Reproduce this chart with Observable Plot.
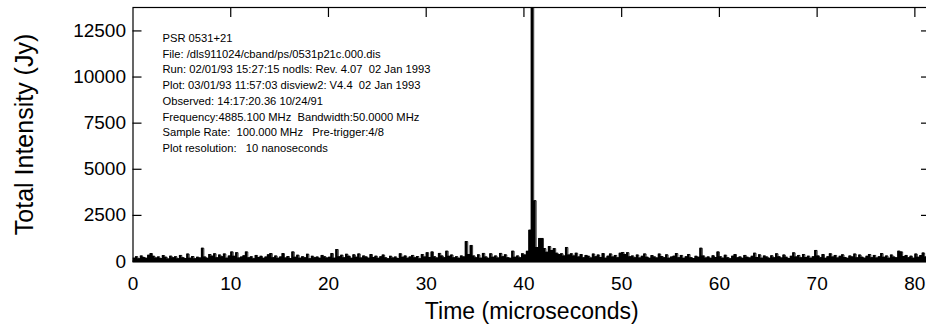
<!DOCTYPE html>
<html>
<head>
<meta charset="utf-8">
<script src="https://cdn.jsdelivr.net/npm/d3@7"></script>
<script src="https://cdn.jsdelivr.net/npm/@observablehq/plot@0.6"></script>
<style>
  html, body { margin: 0; padding: 0; background: #fff; overflow: hidden; }
  #chart { width: 926px; height: 331px; }
</style>
</head>
<body>
<div id="chart"></div>
<script>
// ---- data ----
const xTicks = [0, 10, 20, 30, 40, 50, 60, 70, 80];
const yTicks = [0, 2500, 5000, 7500, 10000, 12500];
const xLabel = "Time (microseconds)";
const yLabel = "Total Intensity (Jy)";
const infoLines = [
  "PSR 0531+21",
  "File: /dls911024/cband/ps/0531p21c.000.dis",
  "Run: 02/01/93 15:27:15 nodls: Rev. 4.07  02 Jan 1993",
  "Plot: 03/01/93 11:57:03 disview2: V4.4  02 Jan 1993",
  "Observed: 14:17:20.36 10/24/91",
  "Frequency:4885.100 MHz  Bandwidth:50.0000 MHz",
  "Sample Rate:  100.000 MHz   Pre-trigger:4/8",
  "Plot resolution:   10 nanoseconds"
];
const sampleStep = 0.25; // microseconds between listed samples
// intensity in Jy, one value per 0.25 microseconds starting at 0
const intensity = [
  180, 260, 150, 300, 220, 170, 340, 430, 280, 190, 250, 160, 320, 230, 140, 290, 200, 260, 150, 330,
  210, 160, 400, 180, 270, 150, 230, 190, 720, 240, 170, 380, 290, 420, 200, 350, 260, 410, 180, 300,
  520, 280, 480, 190, 240, 310, 520, 200, 260, 150, 330, 220, 280, 170, 240, 360, 430, 210, 300, 180,
  250, 430, 190, 270, 160, 520, 230, 340, 180, 260, 200, 390, 150, 280, 210, 240, 170, 330, 260, 190,
  230, 430, 180, 650, 260, 340, 200, 390, 280, 170, 360, 230, 410, 190, 300, 250, 180, 380, 220, 290,
  170, 260, 350, 200, 150, 280, 190, 240, 160, 420, 230, 300, 180, 250, 330, 200, 270, 150, 380, 240,
  480, 220, 520, 260, 190, 440, 300, 210, 560, 280, 350, 200, 260, 170, 300, 250, 1080, 380, 870, 300,
  200, 360, 180, 440, 250, 170, 420, 230, 300, 190, 440, 260, 360, 210, 170, 560, 230, 300, 200, 420,
  350, 550, 1700, 13800, 3300, 760, 1250, 1250, 700, 500, 810, 600, 700, 450, 380, 420, 300, 760, 350, 420,
  300, 450, 250, 380, 200, 330, 280, 190, 400, 260, 350, 220, 430, 180, 290, 410, 240, 330, 200, 450,
  490, 380, 480, 260, 300, 200, 350, 190, 280, 410, 230, 170, 320, 250, 190, 400, 270, 210, 360, 180,
  240, 290, 430, 200, 330, 170, 260, 380, 210, 160, 280, 230, 720, 300, 190, 250, 170, 310, 220, 520,
  260, 180, 340, 210, 150, 290, 380, 200, 250, 170, 330, 230, 190, 280, 450, 220, 360, 180, 300, 240,
  170, 310, 200, 420, 260, 190, 350, 230, 160, 280, 470, 250, 330, 200, 380, 220, 290, 180, 260, 600,
  300, 210, 380, 170, 260, 420, 240, 330, 190, 280, 360, 220, 170, 300, 250, 400, 200, 350, 230, 180,
  280, 380, 210, 330, 190, 260, 430, 230, 300, 180, 350, 240, 200, 560, 520, 270, 330, 210, 290, 180,
  400, 230, 320, 460, 250, 300, 200
];

const data = intensity.map((v, i) => ({t: i * sampleStep, v}));

const W = 926, H = 331;
const mL = 132.5, mR = -4, mT = 7, mB = 70;
const frameW = W - mR - mL;
const frameH = H - mT - mB;

const chart = Plot.plot({
  width: W,
  height: H,
  marginLeft: mL,
  marginRight: mR,
  marginTop: mT,
  marginBottom: mB,
  style: {fontFamily: "'Liberation Sans', Arial, Helvetica, sans-serif", color: "black", background: "white", overflow: "visible"},
  x: {domain: [0, 81.6]},
  y: {domain: [0, 13770]},
  marks: [
    Plot.areaY(data, {x: "t", y: "v", curve: "step-after", fill: "black", clip: true}),
    Plot.lineY(data, {x: "t", y: "v", curve: "step-after", stroke: "black", strokeWidth: 0.8, clip: true}),
    Plot.frame({stroke: "black", strokeWidth: 1.2}),
    Plot.ruleY([0], {stroke: "black", strokeWidth: 2}),
    // inward ticks: top, left, right
    Plot.ruleX(xTicks.filter(d => d > 0), {x: d => d, insetBottom: frameH - 10, stroke: "black", strokeWidth: 1.2}),
    Plot.ruleY(yTicks.filter(d => d > 0), {y: d => d, insetRight: frameW - 9, stroke: "black", strokeWidth: 1.2}),
    Plot.ruleY(yTicks.filter(d => d > 0), {y: d => d, insetLeft: frameW - 9, stroke: "black", strokeWidth: 1.2}),
    Plot.axisX({ticks: xTicks, tickSize: 0, tickPadding: 15, fontSize: 19, label: null, tickFormat: d => String(d)}),
    Plot.axisY({ticks: yTicks, tickSize: 0, tickPadding: 7, fontSize: 19, label: null, tickFormat: d => String(d)}),
    Plot.text([xLabel], {frameAnchor: "bottom", dy: 50, fontSize: 23, textAnchor: "middle", lineAnchor: "middle", text: d => d}),
    Plot.text([yLabel], {frameAnchor: "left", rotate: -90, dx: -108, fontSize: 25, textAnchor: "middle", lineAnchor: "middle", text: d => d}),
    Plot.text([infoLines.join("\n")], {frameAnchor: "top-left", textAnchor: "start", lineAnchor: "top", dx: 29.5, dy: 23, fontSize: 11.2, lineHeight: 1.41, text: d => d})
  ]
});
document.getElementById("chart").appendChild(chart);
</script>
</body>
</html>
